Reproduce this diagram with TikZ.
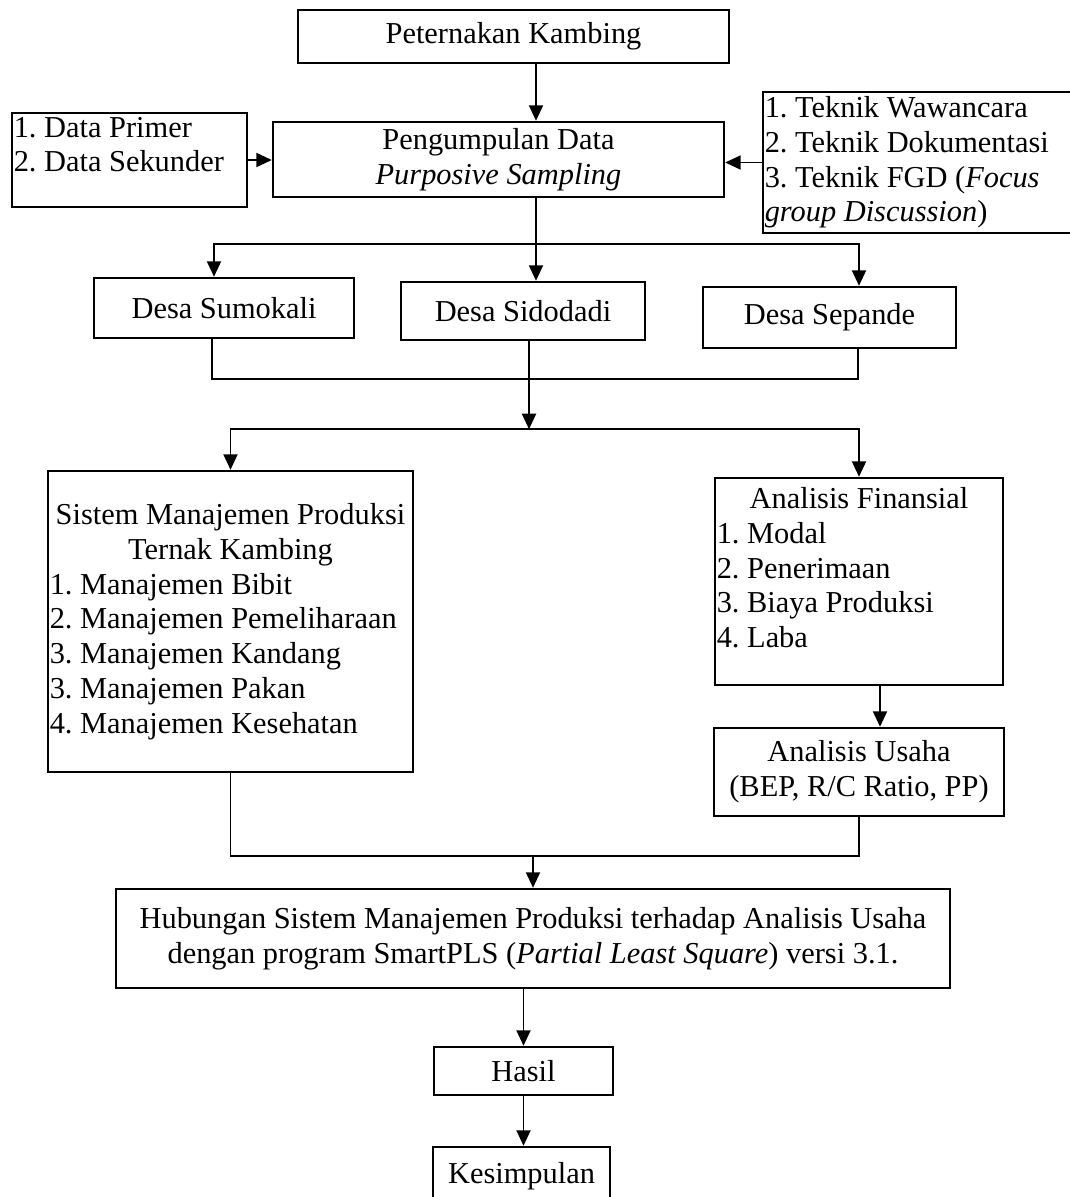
\documentclass[tikz,border=0pt]{standalone}
\usepackage{fontspec}
\setmainfont{Liberation Serif}
\usetikzlibrary{arrows.meta,positioning}

\begin{document}
\begin{tikzpicture}[x=0.02cm,y=-0.02cm,
  font=\fontsize{17.3}{19.8}\selectfont\frenchspacing,
  box/.style={draw,line width=1.4pt,inner sep=1pt,align=center},
  listbox/.style={box,align=flush left},
  arr/.style={line width=1.1pt,-{Triangle[length=0.31cm,width=0.28cm]}},
  link/.style={line width=1.1pt}]
  \useasboundingbox (0,0) rectangle (1070,1197);

  % Data collection
  \node[box,minimum width=8.62cm,minimum height=1.06cm] (ternak) at (513.5,36.5) {Peternakan Kambing};
  \node[box,minimum width=9.02cm,minimum height=1.5cm] (kumpul) at (498.5,159.5) {Pengumpulan Data\\\textit{Purposive Sampling}};
  \node[listbox,text width=4.63cm,minimum height=1.88cm] (sumber) at (129.5,160) {1. Data Primer\\2. Data Sekunder\\[-2pt]\mbox{}};
  \node[listbox,text width=6.17cm,minimum height=2.82cm] (teknik) at (919,162.5) {1. Teknik Wawancara\\2. Teknik Dokumentasi\\3. Teknik FGD (\textit{Focus}\\\textit{group Discussion})};

  \draw[arr] ([xshift=0.45cm]ternak.south) -- ([xshift=0.45cm]ternak.south |- kumpul.north);
  \draw[arr] (sumber.east) -- (sumber.east -| kumpul.west);
  \draw[arr] (teknik.west) -- (teknik.west -| kumpul.east);

  % Villages
  \node[box,minimum width=5.2cm,minimum height=1.2cm] (sumokali) at (224,308) {Desa Sumokali};
  \node[box,minimum width=4.88cm,minimum height=1.16cm] (sidodadi) at (523,311) {Desa Sidodadi};
  \node[box,minimum width=5.06cm,minimum height=1.22cm] (sepande) at (829.5,317.5) {Desa Sepande};

  \draw[link] ([xshift=0.75cm]kumpul.south) -- ++(0,46) coordinate (j1);
  \draw[arr] (j1) -| ([xshift=-0.2cm]sumokali.north);
  \draw[arr] (j1) -- (j1 |- sidodadi.north);
  \draw[arr] (j1) -| ([xshift=0.59cm]sepande.north);

  \draw[link] ([xshift=-0.24cm]sumokali.south) -- ++(0,40) -| ([xshift=0.57cm]sepande.south);
  \draw[arr] ([xshift=0.12cm]sidodadi.south) -- ++(0,88) coordinate (j2);

  % Analysis
  \node[listbox,text width=7.23cm,minimum height=6.02cm] (sistem) at (230.5,621.5) {{\centering Sistem Manajemen Produksi\\Ternak Kambing\par}1. Manajemen Bibit\\2. Manajemen Pemeliharaan\\3. Manajemen Kandang\\3. Manajemen Pakan\\4. Manajemen Kesehatan};
  \node[listbox,text width=5.69cm,minimum height=4.14cm] (finansial) at (859,581.5) {{\centering Analisis Finansial\par}1. Modal\\2. Penerimaan\\3. Biaya Produksi\\4. Laba\\[-4pt]\mbox{}};
  \node[box,minimum width=5.8cm,minimum height=1.76cm] (usaha) at (859,772) {Analisis Usaha\\(BEP, R/C Ratio, PP)};

  \draw[arr] (j2) -| (sistem.north);
  \draw[arr] (j2) -| (finansial.north);
  \draw[arr] ([xshift=0.42cm]finansial.south) -- ([xshift=0.42cm]finansial.south |- usaha.north);

  % Result
  \node[box,minimum width=16.68cm,minimum height=1.98cm] (hubungan) at (533,938.5) {Hubungan Sistem Manajemen Produksi terhadap Analisis Usaha\\dengan program SmartPLS (\textit{Partial Least Square}) versi 3.1.};
  \node[box,minimum width=3.58cm,minimum height=0.96cm] (hasil) at (523.5,1071) {Hasil};
  \node[box,minimum width=3.54cm,minimum height=1.16cm] (simpulan) at (521.5,1176) {Kesimpulan};

  \draw[link] (sistem.south) -- ++(0,83) coordinate (j3) -| (usaha.south);
  \draw[arr] (j3 -| hubungan.north) -- (hubungan.north);
  \draw[arr] (hasil.north |- hubungan.south) -- (hasil.north);
  \draw[arr] (hasil.south) -- (hasil.south |- simpulan.north);
\end{tikzpicture}
\end{document}
